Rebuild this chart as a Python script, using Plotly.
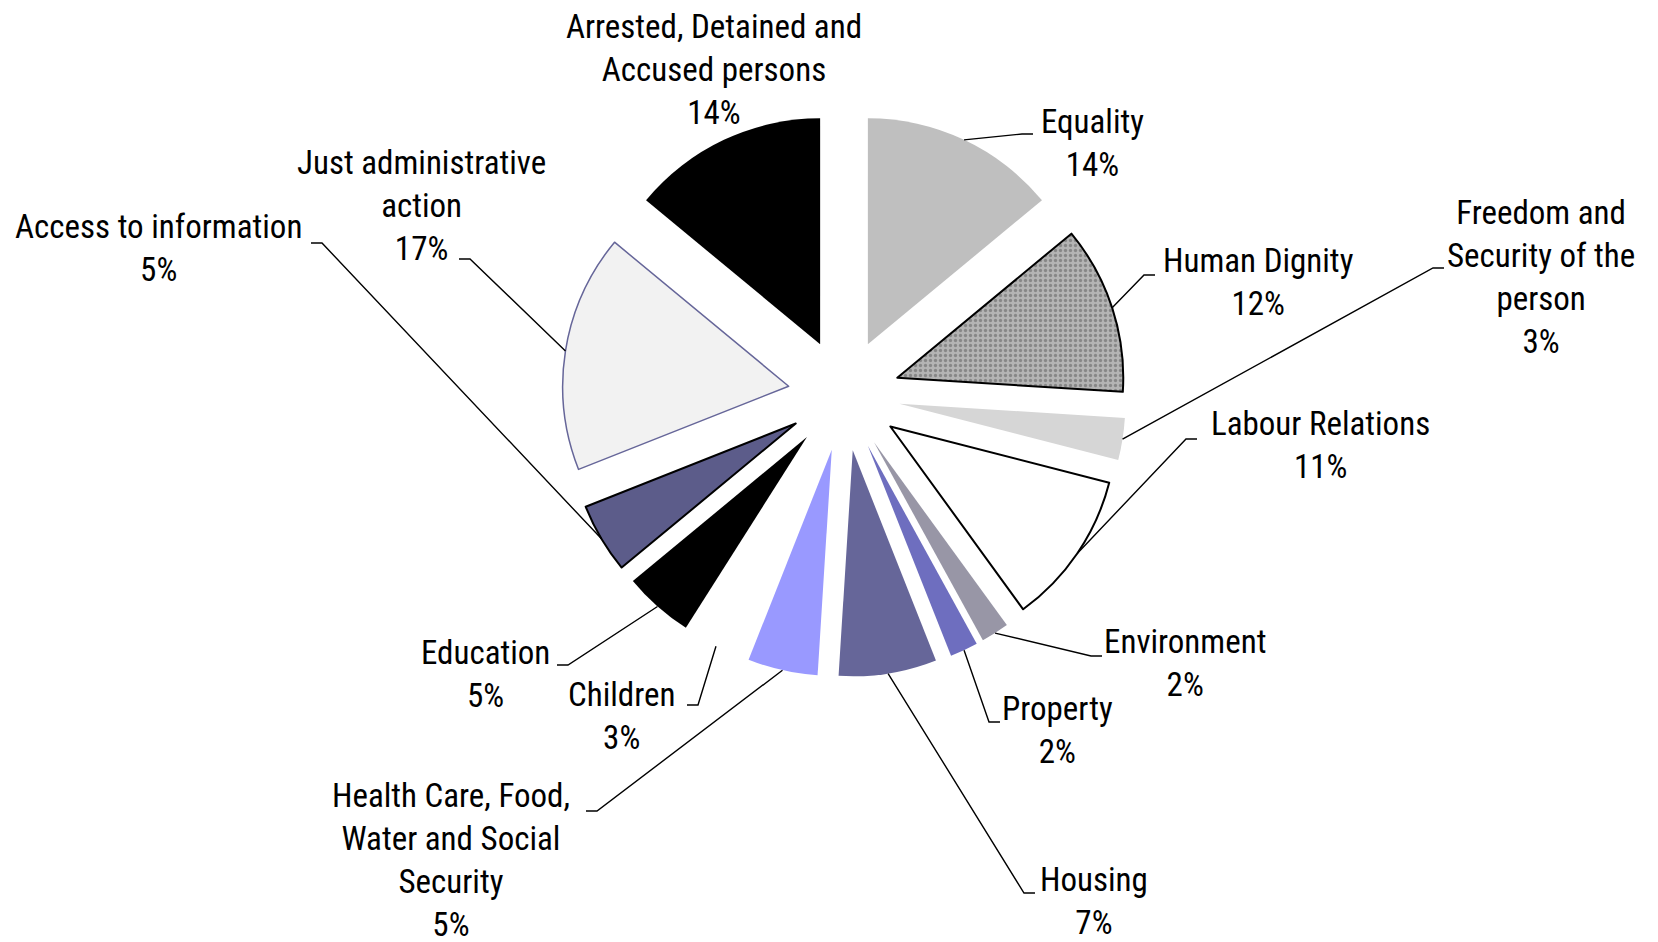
import math
import plotly.graph_objects as go

# data
labels = [
    "Equality", "Human Dignity", "Freedom and Security of the person",
    "Labour Relations", "Environment", "Property", "Housing",
    "Health Care, Food, Water and Social Security", "Children", "Education",
    "Access to information", "Just administrative action",
    "Arrested, Detained and Accused persons",
]
shares = [14, 12, 3, 11, 2, 2, 7, 5, 3, 5, 5, 17, 14]
label_text = [
    "Equality", "Human Dignity", "Freedom and<br>Security of the<br>person",
    "Labour Relations", "Environment", "Property", "Housing",
    "Health Care, Food,<br>Water and Social<br>Security", "Children", "Education",
    "Access to information", "Just administrative<br>action",
    "Arrested, Detained and<br>Accused persons",
]

FILLS = ["#bfbfbf", "#b4b4b4", "#d6d6d6", "#ffffff", "#9896a6", "#6e6ebf", "#666699",
         "#9999ff", "#ffffff", "#000000", "#5c5c8a", "#f2f2f2", "#000000"]
EDGES = ["#000000", "#000000", "#000000", "#000000", "#000000", "#000000", "#000000",
         "#000000", "#ffffff", "#000000", "#000000", "#666699", "#000000"]
EDGE_W = [0, 2, 0, 2, 0, 0, 0, 0, 0, 0, 2, 1.5, 0]
PATTERN = ["", ".", "", "", "", "", "", "", "", "", "", "", ""]

W, H = 1658, 942
PAGE_OFF = 8               # browser body margin
CX, CY = 844, 395          # pie centre in px (page coords)
R_OUT = 282                 # radius incl. pull, px
PULL = 0.248

# label centre (px) and elbow of leader line (px); None = no leader
LABEL_POS = {
    "Equality": ((1092, 143), (1022, 134)),
    "Human Dignity": ((1258, 282), (1144, 275)),
    "Freedom and Security of the person": ((1541, 277), (1433, 268)),
    "Labour Relations": ((1320, 445), (1186, 439)),
    "Environment": ((1185, 663), (1091, 656)),
    "Property": ((1057, 730), (989, 722)),
    "Housing": ((1094, 901), (1024, 893)),
    "Health Care, Food, Water and Social Security": ((451, 860), (597, 811)),
    "Children": ((621, 716), (698, 705)),
    "Education": ((485, 674), (568, 665)),
    "Access to information": ((158, 248), (322, 243)),
    "Just administrative action": ((421, 205), (470, 259)),
    "Arrested, Detained and Accused persons": ((714, 70), None),
}

FONT = "Liberation Sans Narrow, Arial Narrow, Roboto Condensed, DejaVu Sans Condensed, sans-serif"


def px(x, y):
    """page pixel -> paper coords"""
    return (x - PAGE_OFF) / W, 1 - (y - PAGE_OFF) / H


x0, y1 = px(CX - R_OUT, CY - R_OUT)
x1, y0 = px(CX + R_OUT, CY + R_OUT)

fig = go.Figure(go.Pie(
    labels=labels,
    values=shares,
    sort=False,
    direction="clockwise",
    rotation=0,
    pull=[PULL] * len(shares),
    textinfo="none",
    showlegend=False,
    marker=dict(
        colors=FILLS,
        line=dict(color=EDGES, width=EDGE_W),
        pattern=dict(shape=PATTERN, fillmode="overlay", fgcolor="#5a5a5a",
                     size=5, solidity=0.35),
    ),
    domain=dict(x=[x0, x1], y=[y0, y1]),
))

total = sum(shares)
cum = 0
annotations = []
shapes = []
for name, val, txt in zip(labels, shares, label_text):
    mid = (cum + val / 2) / total * 2 * math.pi
    cum += val
    pct = round(val / total * 100)
    (lx, ly), elbow = LABEL_POS[name]
    ax, ay = px(lx, ly)
    annotations.append(dict(
        x=ax, y=ay, xref="paper", yref="paper",
        text=f"{txt}<br>{pct}%", showarrow=False, align="center",
        xanchor="center", yanchor="middle",
        font=dict(family=FONT, size=33, color="#000000"),
    ))
    if elbow is None:
        continue
    sx = CX + R_OUT * math.sin(mid)
    sy = CY - R_OUT * math.cos(mid)
    ex, ey = elbow
    stub = 11 if lx > ex else -11
    pts = [px(sx, sy), px(ex, ey), px(ex + stub, ey)]
    path = "M " + " L ".join(f"{x:.5f},{y:.5f}" for x, y in pts)
    shapes.append(dict(type="path", path=path, xref="paper", yref="paper",
                       line=dict(color="#000000", width=1.4)))

fig.update_layout(
    width=W, height=H,
    margin=dict(l=0, r=0, t=0, b=0),
    paper_bgcolor="white",
    plot_bgcolor="white",
    annotations=annotations,
    shapes=shapes,
)

fig.write_html("out.html")
